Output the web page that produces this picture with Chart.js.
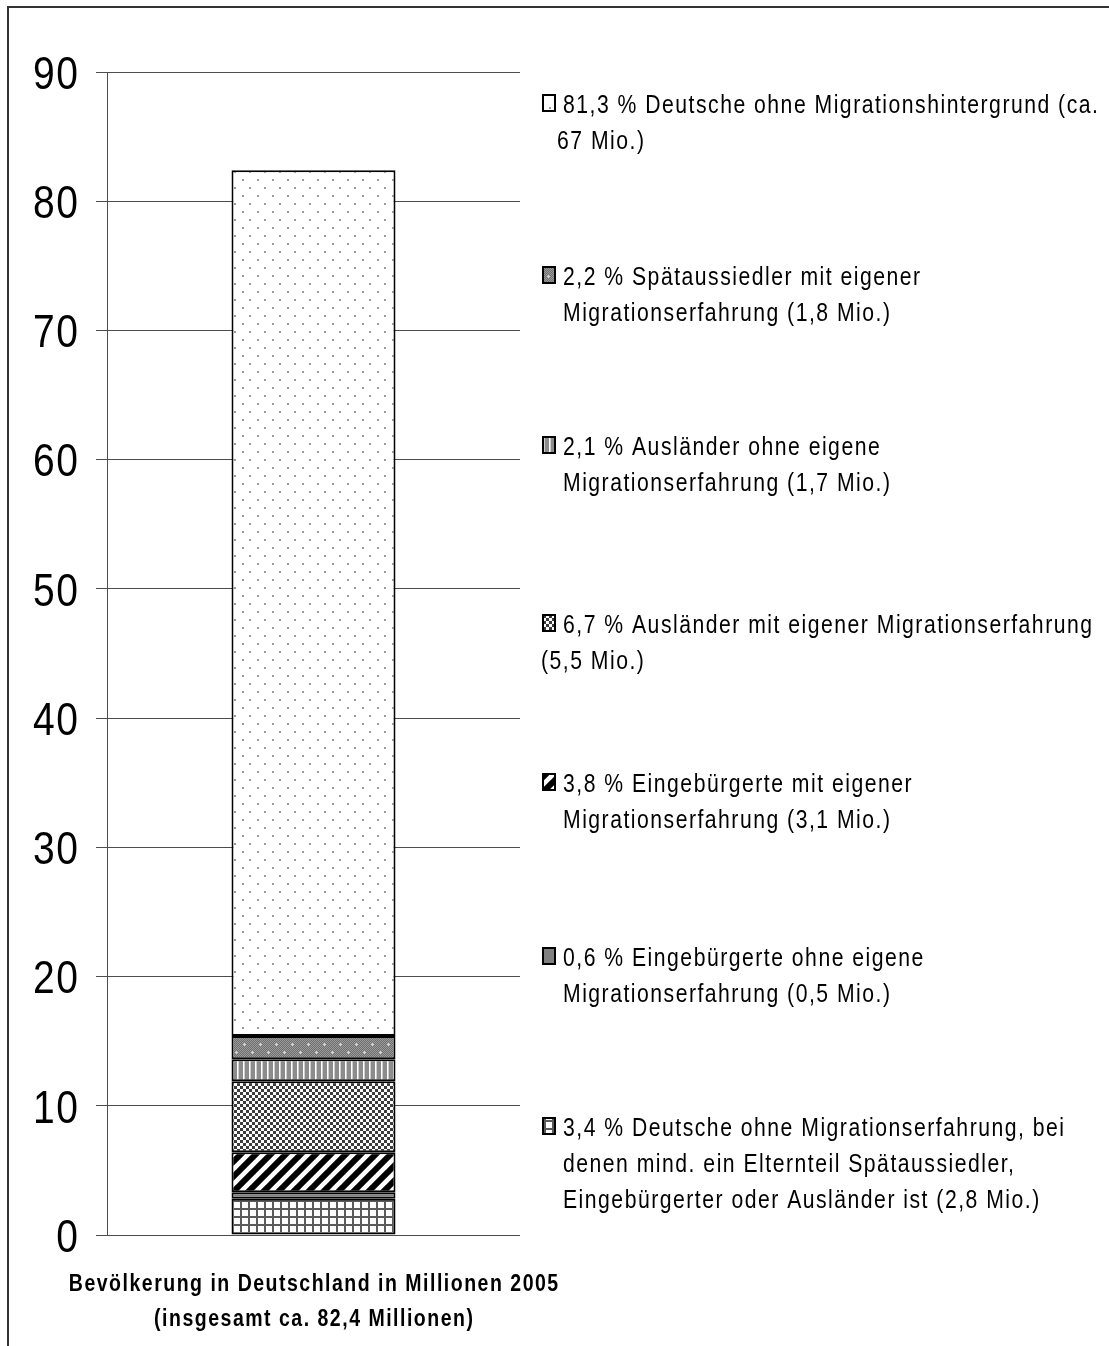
<!DOCTYPE html>
<html>
<head>
<meta charset="utf-8">
<title>Bevölkerung in Deutschland 2005</title>
<script src="https://cdn.jsdelivr.net/npm/chart.js@4.4.1/dist/chart.umd.min.js"></script>
<style>
  html, body { margin: 0; padding: 0; background: #fff; }
  #wrap { width: 1109px; height: 1346px; position: relative; }
</style>
</head>
<body>
<div id="wrap"><canvas id="chart" width="1109" height="1346"></canvas></div>
<script>
// ---- data -------------------------------------------------------------
// single category (two-line axis label)
const categoryLabel = ['Bevölkerung in Deutschland in Millionen 2005', '(insgesamt ca. 82,4 Millionen)'];

// stacked segments, bottom to top (millions)
const seriesNames = [
  'Deutsche ohne Migrationserfahrung, bei denen mind. ein Elternteil Spätaussiedler, Eingebürgerter oder Ausländer ist',
  'Eingebürgerte ohne eigene Migrationserfahrung',
  'Eingebürgerte mit eigener Migrationserfahrung',
  'Ausländer mit eigener Migrationserfahrung',
  'Ausländer ohne eigene Migrationserfahrung',
  'Spätaussiedler mit eigener Migrationserfahrung',
  'Deutsche ohne Migrationshintergrund'
];
const seriesValues = [2.8, 0.5, 3.1, 5.5, 1.7, 1.8, 67];

// legend text, one entry per segment (bottom to top), already wrapped
const legendText = [
  ['3,4 % Deutsche ohne Migrationserfahrung, bei', 'denen mind. ein Elternteil Spätaussiedler,', 'Eingebürgerter oder Ausländer ist (2,8 Mio.)'],
  ['0,6 % Eingebürgerte ohne eigene', 'Migrationserfahrung (0,5 Mio.)'],
  ['3,8 % Eingebürgerte mit eigener', 'Migrationserfahrung (3,1 Mio.)'],
  ['6,7 % Ausländer mit eigener Migrationserfahrung', '(5,5 Mio.)'],
  ['2,1 % Ausländer ohne eigene', 'Migrationserfahrung (1,7 Mio.)'],
  ['2,2 % Spätaussiedler mit eigener', 'Migrationserfahrung (1,8 Mio.)'],
  ['81,3 % Deutsche ohne Migrationshintergrund (ca.', '67 Mio.)']
];

// value axis
const yMin = 0;
const yMax = 90;
const yStep = 10;

// ---- layout / style ---------------------------------------------------
const FONT = '"Liberation Sans", Arial, sans-serif';
const TEXT = { scaleX: 0.83, spacing: 1.5 };   // narrow face with loose tracking
const AREA = { left: 107, top: 72, right: 520, bottom: 1235 };
const LEGEND = {
  markerX: 542, textX: 563, markerW: 14, markerH: 18, fontSize: 25.5,
  // first-line centre of each entry, bottom entry first
  firstLineY: [1127, 957, 783, 624, 446, 276, 104],
  // left edge of wrapped continuation lines, per entry
  wrapX: [563, 563, 563, 541, 563, 563, 557],
  lineGap: 36
};
const XLABEL = { size: 23.5, lineY: [1283, 1318] };
const YLABEL = { size: 47, right: 78 };

// ---- fill patterns ----------------------------------------------------
function makeTile(w, h, paint) {
  const c = document.createElement('canvas');
  c.width = w; c.height = h;
  const g = c.getContext('2d');
  paint(g, w, h);
  return document.createElement('canvas').getContext('2d').createPattern(c, 'repeat');
}

const fills = [
  // fine grid
  makeTile(8, 8, (g) => {
    g.fillStyle = '#ffffff'; g.fillRect(0, 0, 8, 8);
    g.fillStyle = '#5a5a5a'; g.fillRect(0, 0, 8, 2); g.fillRect(0, 0, 2, 8);
  }),
  // plain grey
  '#808080',
  // wide diagonal stripes
  makeTile(15, 15, (g) => {
    g.fillStyle = '#ffffff'; g.fillRect(0, 0, 15, 15);
    g.strokeStyle = '#000000'; g.lineWidth = 6; g.lineCap = 'square';
    for (const o of [-15, 0, 15]) {
      g.beginPath(); g.moveTo(o - 2, 17); g.lineTo(o + 17, -2); g.stroke();
    }
  }),
  // small checkerboard
  makeTile(6, 6, (g) => {
    g.fillStyle = '#ffffff'; g.fillRect(0, 0, 6, 6);
    g.fillStyle = '#3c3c3c'; g.fillRect(0, 0, 3, 3); g.fillRect(3, 3, 3, 3);
  }),
  // vertical stripes
  makeTile(6, 1, (g) => {
    g.fillStyle = '#8c8c8c'; g.fillRect(0, 0, 6, 1);
    g.fillStyle = '#ffffff'; g.fillRect(3, 0, 1, 1);
    g.fillStyle = '#cfcfcf'; g.fillRect(4, 0, 1, 1);
  }),
  // grey with light dots
  makeTile(16, 16, (g) => {
    for (let y = 0; y < 16; y++) for (let x = 0; x < 16; x++) {
      g.fillStyle = (x + y) % 2 ? '#6f6f6f' : '#9a9a9a';
      g.fillRect(x, y, 1, 1);
    }
    g.fillStyle = '#d4d4d4';
    g.fillRect(3, 4, 3, 1); g.fillRect(4, 3, 1, 3);
    g.fillRect(11, 12, 3, 1); g.fillRect(12, 11, 1, 3);
  }),
  // sparse dots on white
  makeTile(15, 16, (g) => {
    g.fillStyle = '#ffffff'; g.fillRect(0, 0, 15, 16);
    g.fillStyle = '#9a9a9a';
    g.fillRect(2, 3, 2, 2); g.fillRect(9, 11, 2, 2);
  })
];

// narrow text: regular face compressed horizontally, centred vertically on y
function drawNarrow(ctx, text, x, y, size, bold, align) {
  ctx.save();
  ctx.font = (bold ? 'bold ' : '') + size + 'px ' + FONT;
  ctx.textAlign = 'left';
  ctx.textBaseline = 'alphabetic';
  const sx = TEXT.scaleX;
  if ('letterSpacing' in ctx) ctx.letterSpacing = (TEXT.spacing / sx) + 'px';
  const w = ctx.measureText(text).width * sx - TEXT.spacing;
  let left = x;
  if (align === 'right') left = x - w;
  else if (align === 'center') left = x - w / 2;
  ctx.translate(left, y + 0.358 * size);
  ctx.scale(sx, 1);
  ctx.fillStyle = '#000000';
  ctx.fillText(text, 0, 0);
  ctx.restore();
}

// ---- plugins ----------------------------------------------------------
const framePlugin = {
  id: 'frame',
  beforeDraw(chart) {
    const ctx = chart.ctx;
    ctx.save();
    ctx.fillStyle = '#ffffff';
    ctx.fillRect(0, 0, chart.width, chart.height);
    ctx.strokeStyle = '#333333';
    ctx.lineWidth = 2;
    ctx.beginPath();
    ctx.moveTo(8, chart.height + 2);
    ctx.lineTo(8, 7);
    ctx.lineTo(chart.width + 2, 7);
    ctx.stroke();
    ctx.restore();
  }
};

// axis labels for both scales, placed from the scales themselves
const axisLabelPlugin = {
  id: 'axisLabels',
  afterDraw(chart) {
    const ctx = chart.ctx;
    const ys = chart.scales.y;
    ys.ticks.forEach((t) => {
      drawNarrow(ctx, String(t.value), YLABEL.right, ys.getPixelForValue(t.value), YLABEL.size, false, 'right');
    });
    const xs = chart.scales.x;
    chart.data.labels.forEach((lab, i) => {
      const cx = xs.getPixelForTick(i);
      [].concat(lab).forEach((line, k) => {
        drawNarrow(ctx, line, cx, XLABEL.lineY[k], XLABEL.size, true, 'center');
      });
    });
  }
};

const sideLegendPlugin = {
  id: 'sideLegend',
  afterDraw(chart) {
    const ctx = chart.ctx;
    chart.data.datasets.forEach((ds, i) => {
      const y0 = LEGEND.firstLineY[i];
      const mx = LEGEND.markerX, my = Math.round(y0 - LEGEND.markerH / 2) - 1;
      ctx.save();
      ctx.fillStyle = ds.backgroundColor;
      ctx.fillRect(mx, my, LEGEND.markerW, LEGEND.markerH);
      ctx.strokeStyle = '#000000';
      ctx.lineWidth = 2;
      ctx.strokeRect(mx + 1, my + 1, LEGEND.markerW - 2, LEGEND.markerH - 2);
      ctx.restore();
      legendText[i].forEach((line, k) => {
        const x = k === 0 ? LEGEND.textX : LEGEND.wrapX[i];
        drawNarrow(ctx, line, x, y0 + k * LEGEND.lineGap, LEGEND.fontSize, false, 'left');
      });
    });
  }
};

// ---- chart ------------------------------------------------------------
const datasets = seriesValues.map((v, i) => ({
  label: seriesNames[i],
  data: [v],
  backgroundColor: fills[i],
  borderColor: '#000000',
  borderWidth: 2,
  borderSkipped: false,
  barPercentage: 164 / 413,
  categoryPercentage: 1
}));

new Chart(document.getElementById('chart'), {
  type: 'bar',
  data: { labels: [categoryLabel], datasets },
  options: {
    responsive: false,
    animation: false,
    events: [],
    layout: { padding: { left: 0, top: AREA.top, right: 1109 - AREA.right, bottom: 0 } },
    plugins: { legend: { display: false }, tooltip: { enabled: false } },
    scales: {
      x: {
        stacked: true,
        grid: { display: false, drawTicks: false },
        border: { display: false },
        ticks: { display: false },
        afterFit(scale) {
          scale.height = 1346 - AREA.bottom;
          scale.paddingLeft = 0; scale.paddingRight = 0;
        }
      },
      y: {
        stacked: true,
        min: yMin, max: yMax,
        grid: { color: '#4d4d4d', lineWidth: 1, drawTicks: true, tickLength: 11 },
        border: { display: true, color: '#4d4d4d', width: 1 },
        ticks: { display: false, stepSize: yStep },
        afterFit(scale) {
          scale.width = AREA.left;
          scale.paddingTop = 0; scale.paddingBottom = 0;
        }
      }
    }
  },
  plugins: [framePlugin, axisLabelPlugin, sideLegendPlugin]
});
</script>
</body>
</html>
